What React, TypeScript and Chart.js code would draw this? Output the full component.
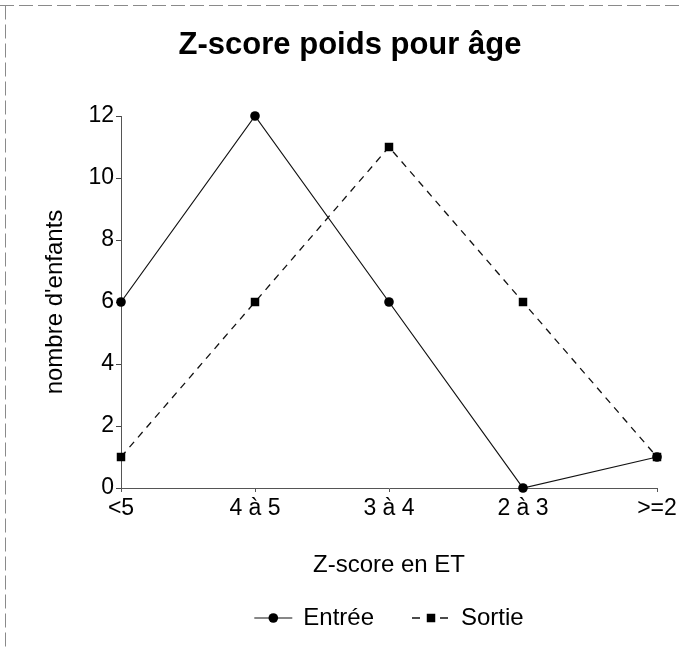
import React, { useEffect, useRef } from "react";
import { Chart, registerables } from "chart.js";

Chart.register(...registerables);

const categories = ["<5", "4 à 5", "3 à 4", "2 à 3", ">=2"];
const entreeValues = [6, 12, 6, 0, 1];
const sortieValues = [1, 6, 11, 6, 1];
const seriesNames = ["Entrée", "Sortie"];
const yMin = 0;
const yMax = 12;
const yStep = 2;
const chartTitle = "Z-score poids pour âge";
const xTitle = "Z-score en ET";
const yTitle = "nombre d'enfants";

const FONT = '"Liberation Sans", Arial, Helvetica, sans-serif';

const framePlugin = {
  id: "frame",
  beforeDraw(chart: any) {
    const ctx = chart.ctx;
    ctx.save();
    ctx.strokeStyle = "#8a8a8a";
    ctx.lineWidth = 1;
    ctx.setLineDash([14, 5]);
    ctx.beginPath();
    ctx.moveTo(0, 5.5);
    ctx.lineTo(chart.width, 5.5);
    ctx.moveTo(5.5, 5.5);
    ctx.lineTo(5.5, chart.height);
    ctx.stroke();
    ctx.restore();
  },
};

const legendPlugin = {
  id: "lineLegend",
  afterDraw(chart: any) {
    const ctx = chart.ctx;
    const ca = chart.chartArea;
    const y = 618;
    const sampleW = 38;
    const gapText = 11;
    const gapItem = 38;
    ctx.save();
    ctx.font = `24px ${FONT}`;
    const items = chart.data.datasets.map((ds: any) => ({
      ds,
      w: ctx.measureText(ds.label).width,
    }));
    const total =
      items.reduce((s: number, it: any) => s + sampleW + gapText + it.w, 0) +
      gapItem * (items.length - 1);
    let x = (ca.left + ca.right) / 2 - total / 2;
    items.forEach(({ ds, w }: any) => {
      ctx.strokeStyle = ds.borderColor;
      ctx.lineWidth = ds.borderWidth;
      ctx.setLineDash(ds.borderDash && ds.borderDash.length ? [8, 6] : []);
      ctx.beginPath();
      ctx.moveTo(x, y);
      ctx.lineTo(x + sampleW, y);
      ctx.stroke();
      ctx.setLineDash([]);
      const cx = x + sampleW / 2;
      ctx.fillStyle = ds.pointBackgroundColor;
      if (ds.pointStyle === "rect") {
        const s = ds.pointRadius * Math.SQRT1_2;
        ctx.fillStyle = "#fff";
        ctx.fillRect(cx - s - 3, y - 2, 2 * s + 6, 4);
        ctx.fillStyle = ds.pointBackgroundColor;
        ctx.fillRect(cx - s, y - s, 2 * s, 2 * s);
      } else {
        ctx.beginPath();
        ctx.arc(cx, y, ds.pointRadius, 0, Math.PI * 2);
        ctx.fill();
      }
      ctx.fillStyle = "#000";
      ctx.textBaseline = "middle";
      ctx.textAlign = "left";
      ctx.fillText(ds.label, x + sampleW + gapText, y);
      x += sampleW + gapText + w + gapItem;
    });
    ctx.restore();
  },
};

export default function App() {
  const canvasRef = useRef<HTMLCanvasElement | null>(null);

  useEffect(() => {
    document.body.style.margin = "0";
    const canvas = canvasRef.current;
    if (!canvas) return;
    const chart = new Chart(canvas, {
      type: "line",
      data: {
        labels: categories,
        datasets: [
          {
            label: seriesNames[0],
            data: entreeValues,
            borderColor: "#111",
            backgroundColor: "#000",
            borderWidth: 1.2,
            pointStyle: "circle",
            pointRadius: 4.8,
            pointBackgroundColor: "#000",
            pointBorderColor: "#000",
            pointBorderWidth: 0,
            tension: 0,
            fill: false,
            clip: false,
          } as any,
          {
            label: seriesNames[1],
            data: sortieValues,
            borderColor: "#111",
            backgroundColor: "#000",
            borderWidth: 1.3,
            borderDash: [7, 6],
            pointStyle: "rect",
            pointRadius: 6,
            pointBackgroundColor: "#000",
            pointBorderColor: "#000",
            pointBorderWidth: 0,
            tension: 0,
            fill: false,
            clip: false,
          } as any,
        ],
      },
      options: {
        responsive: false,
        animation: false,
        layout: { padding: { left: 43, right: 24, top: 0, bottom: 61 } },
        plugins: {
          legend: { display: false },
          tooltip: { enabled: false },
          title: {
            display: true,
            text: chartTitle,
            color: "#000",
            font: { family: FONT, size: 31, weight: "bold" },
            padding: { top: 26.4, bottom: 52.4 },
          },
        },
        scales: {
          x: {
            type: "category",
            offset: false,
            afterFit: (scale: any) => {
              scale.height = 100;
            },
            grid: {
              display: true,
              drawOnChartArea: false,
              drawTicks: true,
              tickLength: 4,
              color: "#555",
            },
            border: { display: true, color: "#555", width: 1 },
            ticks: {
              color: "#000",
              font: { family: FONT, size: 23 },
              padding: 3,
              maxRotation: 0,
              autoSkip: false,
            },
            title: {
              display: true,
              text: xTitle,
              color: "#000",
              font: { family: FONT, size: 24 },
              padding: { top: 0, bottom: 8.6 },
            },
          },
          y: {
            min: yMin,
            max: yMax,
            afterFit: (scale: any) => {
              scale.width = 78;
            },
            grid: {
              display: true,
              drawOnChartArea: false,
              drawTicks: true,
              tickLength: 5,
              color: "#444",
            },
            border: { display: true, color: "#555", width: 1, dash: [3, 3] },
            ticks: {
              stepSize: yStep,
              color: "#000",
              font: { family: FONT, size: 23 },
              padding: 2,
            },
            title: {
              display: true,
              text: yTitle,
              color: "#000",
              font: { family: FONT, size: 24, lineHeight: 1 },
              padding: { top: 0, bottom: 0 },
            },
          },
        },
      },
      plugins: [framePlugin, legendPlugin],
    });
    return () => chart.destroy();
  }, []);

  return (
    <div style={{ width: 681, height: 649, background: "#fff" }}>
      <canvas ref={canvasRef} width={681} height={649} style={{ display: "block" }} />
    </div>
  );
}
